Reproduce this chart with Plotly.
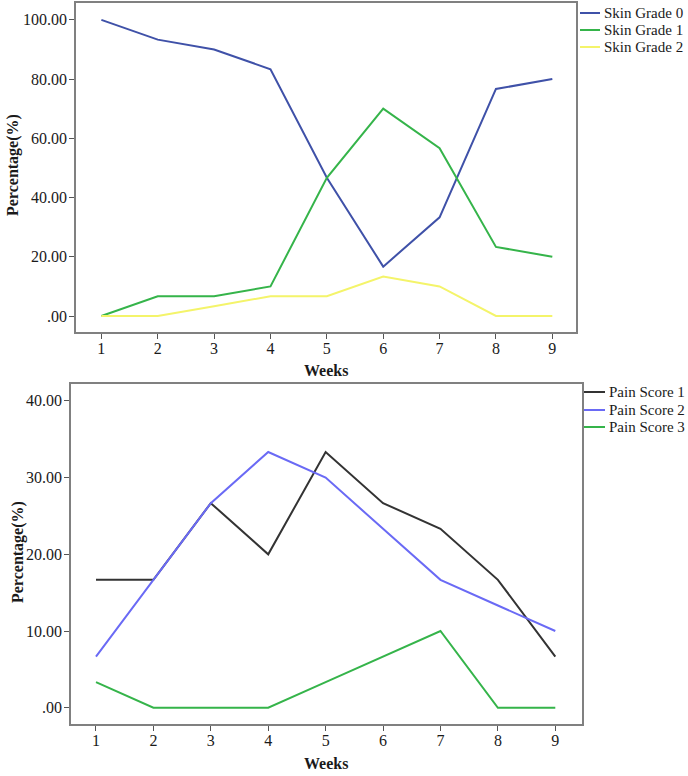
import plotly.graph_objects as go

weeks = [1, 2, 3, 4, 5, 6, 7, 8, 9]
skin_grade_0 = [100.0, 93.33, 90.0, 83.33, 46.67, 16.67, 33.33, 76.67, 80.0]
skin_grade_1 = [0.0, 6.67, 6.67, 10.0, 46.67, 70.0, 56.67, 23.33, 20.0]
skin_grade_2 = [0.0, 0.0, 3.33, 6.67, 6.67, 13.33, 10.0, 0.0, 0.0]

pain_score_1 = [16.67, 16.67, 26.67, 20.0, 33.33, 26.67, 23.33, 16.67, 6.67]
pain_score_2 = [6.67, 16.67, 26.67, 33.33, 30.0, 23.33, 16.67, 13.33, 10.0]
pain_score_3 = [3.33, 0.0, 0.0, 0.0, 3.33, 6.67, 10.0, 0.0, 0.0]

top_ticks = [0, 20, 40, 60, 80, 100]
top_ticktext = [".00", "20.00", "40.00", "60.00", "80.00", "100.00"]
bot_ticks = [0, 10, 20, 30, 40]
bot_ticktext = [".00", "10.00", "20.00", "30.00", "40.00"]

FONT = "Liberation Serif"
FS = 16
W, H = 688, 776

fig = go.Figure()

top_series = [("Skin Grade 0", skin_grade_0, "#3F51A8"),
              ("Skin Grade 1", skin_grade_1, "#35B44A"),
              ("Skin Grade 2", skin_grade_2, "#F4F46A")]
bot_series = [("Pain Score 1", pain_score_1, "#333333"),
              ("Pain Score 2", pain_score_2, "#6A6AF5"),
              ("Pain Score 3", pain_score_3, "#35B44A")]

for name, vals, col in top_series:
    fig.add_trace(go.Scatter(x=weeks, y=vals, name=name, mode="lines",
                             line=dict(color=col, width=2),
                             xaxis="x", yaxis="y", showlegend=False))
for name, vals, col in bot_series:
    fig.add_trace(go.Scatter(x=weeks, y=vals, name=name, mode="lines",
                             line=dict(color=col, width=2),
                             xaxis="x2", yaxis="y2", showlegend=False))

tickfont = dict(family=FONT, size=FS, color="#1a1a1a")
axis_common = dict(showline=True, mirror=True, linecolor="#808080", linewidth=1.5,
                   showgrid=False, zeroline=False, ticks="outside", ticklen=5,
                   tickcolor="#555555", tickfont=tickfont)

fig.update_layout(
    width=W, height=H,
    margin=dict(l=0, r=0, t=0, b=0),
    paper_bgcolor="white", plot_bgcolor="white",
    font=dict(family=FONT, color="#1a1a1a"),
    showlegend=False,
    xaxis=dict(domain=[76/W, 576/W], range=[0.55, 9.42], tickvals=weeks,
               anchor="y", ticklabelstandoff=-4, **axis_common),
    yaxis=dict(domain=[1-332/H, 1-3/H], range=[-5.4, 105.7], tickvals=top_ticks,
               ticktext=top_ticktext, anchor="x", ticklabelstandoff=-1, **axis_common),
    xaxis2=dict(domain=[71/W, 582/W], range=[0.565, 9.465], tickvals=weeks,
                anchor="y2", ticklabelstandoff=-4, **axis_common),
    yaxis2=dict(domain=[1-724/H, 1-384/H], range=[-2.12, 42.2], tickvals=bot_ticks,
                ticktext=bot_ticktext, anchor="x2", ticklabelstandoff=-1, **axis_common),
)

# custom legends (key lines + labels)
LFS = 15
legend_specs = [(top_series, 580, 600, 602, [13, 30, 47]),
                (bot_series, 584, 605, 607, [392, 410, 427])]
for series, x0, x1, xt, ys in legend_specs:
    for (name, _, col), yy in zip(series, ys):
        fig.add_shape(type="line", xref="paper", yref="paper",
                      x0=x0/W, x1=x1/W, y0=1-yy/H, y1=1-yy/H,
                      line=dict(color=col, width=2))
        fig.add_annotation(text=name, xref="paper", yref="paper",
                           x=xt/W, y=1-yy/H, xanchor="left", yanchor="middle",
                           showarrow=False, font=dict(family=FONT, size=LFS, color="#1a1a1a"))

ann_font = dict(family=FONT, size=FS, color="#1a1a1a")
for txt, x, y, ang in [("<b>Percentage(%)</b>", 13, 165, -90),
                       ("<b>Weeks</b>", 326, 370, 0),
                       ("<b>Percentage(%)</b>", 18, 552, -90),
                       ("<b>Weeks</b>", 326, 763, 0)]:
    fig.add_annotation(text=txt, xref="paper", yref="paper", x=x/W, y=1-y/H,
                       xanchor="center", yanchor="middle", textangle=ang,
                       showarrow=False, font=ann_font)

fig.write_html("out.html", config={"displayModeBar": False},
               post_script="document.body.style.margin='0';document.body.style.padding='0';")
